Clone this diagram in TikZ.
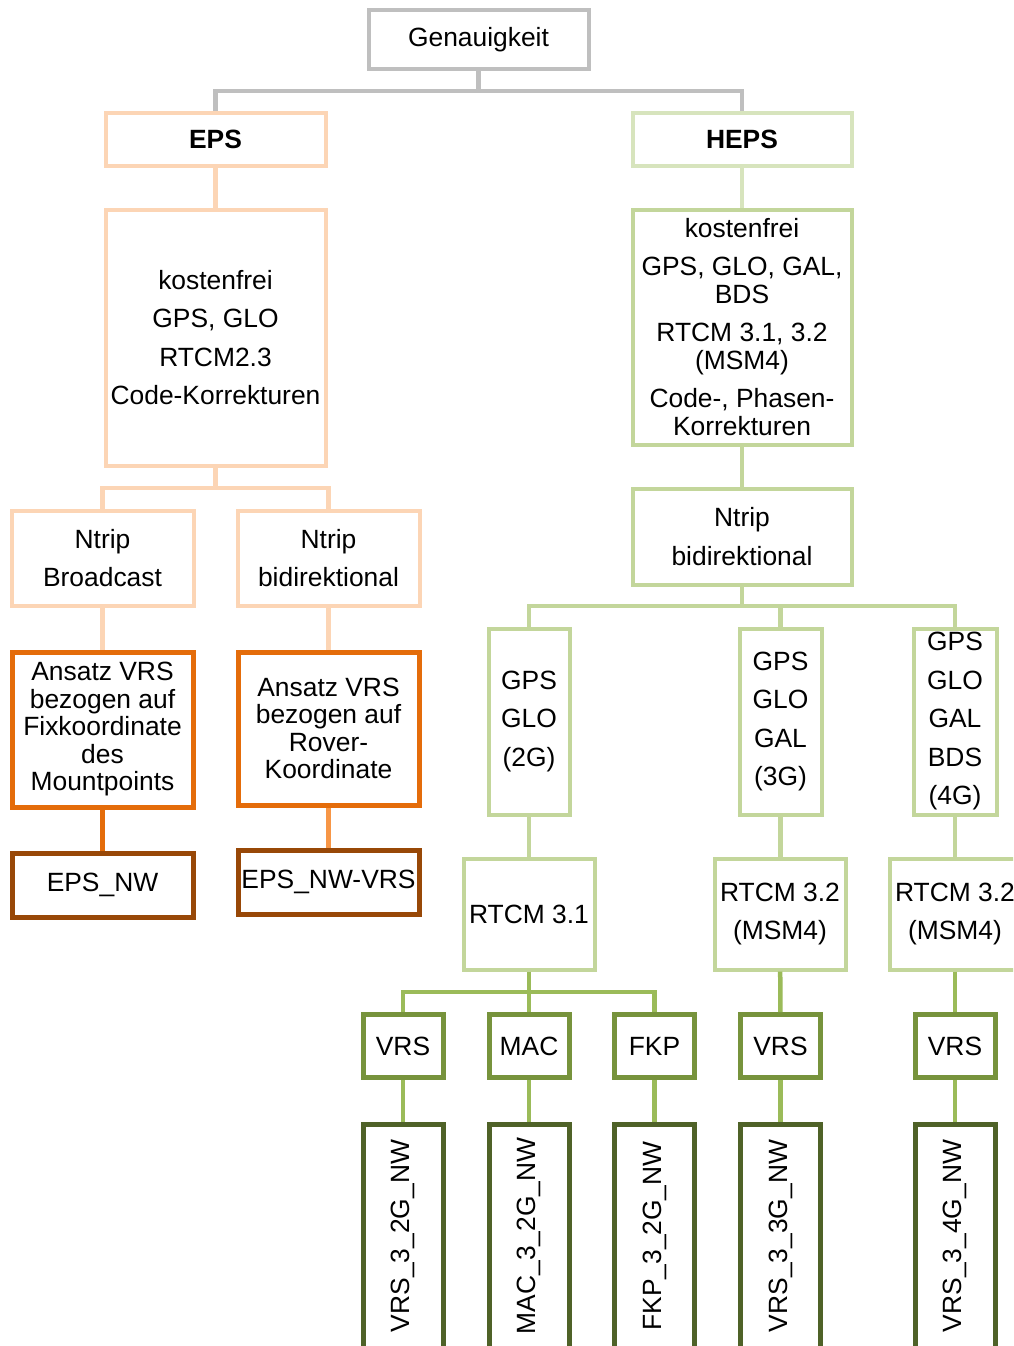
\documentclass[tikz,border=0pt]{standalone}
\usepackage{fontspec}
\setmainfont{Liberation Sans}
\usepackage{tikz}
\definecolor{grau}{HTML}{BFBFBF}
\definecolor{peach}{HTML}{FCD5B5}
\definecolor{orng}{HTML}{E46C0A}
\definecolor{ornglight}{HTML}{F79646}
\definecolor{braun}{HTML}{984807}
\definecolor{hepsgr}{HTML}{D7E4BD}
\definecolor{hellgr}{HTML}{C3D69B}
\definecolor{mittelgr}{HTML}{9BBB59}
\definecolor{gr}{HTML}{77933C}
\definecolor{dunkelgr}{HTML}{4F6228}
\newcommand{\gap}{\\[11pt]}

\begin{document}
\begin{tikzpicture}[x=1pt, y=-1pt,
      box/.style={draw, line width=4pt, inner sep=0pt, align=center,
                  font=\fontsize{26.4}{27.5}\selectfont},
      grbox/.style={box, draw=grau},
      pbox/.style={box, draw=peach},
      obox/.style={box, draw=orng, line width=5pt},
      bbox/.style={box, draw=braun, line width=5pt},
      hbox/.style={box, draw=hellgr},
      vbox/.style={box, draw=gr, line width=5pt, minimum width=80pt, minimum height=63pt},
      nwbox/.style={box, draw=dunkelgr, line width=5pt, minimum width=80pt, minimum height=224pt},
      conn/.style={line width=4.5pt}]
    \path[use as bounding box, clip] (0,0) rectangle (1013,1346);
    \fill[white] (0,0) rectangle (1013,1346);

    % obere Ebene
    \node[grbox, minimum width=220pt, minimum height=59pt] (gen) at (478.5,39.5) {Genauigkeit};
    \node[pbox, minimum width=220pt, minimum height=53pt] (eps) at (215.5,139) {\textbf{EPS}};
    \node[box, draw=hepsgr, minimum width=219pt, minimum height=53pt] (heps) at (742,139) {\textbf{HEPS}};

    % EPS-Zweig
    \node[pbox, minimum width=220pt, minimum height=256pt] (epsinfo) at (215.5,337.5)
      {kostenfrei\gap GPS, GLO\gap RTCM2.3\gap Code-Korrekturen};
    \node[pbox, minimum width=182pt, minimum height=95pt] (ntripbc) at (102.5,558) {Ntrip\gap Broadcast};
    \node[pbox, minimum width=182pt, minimum height=95pt] (ntripbi) at (328.5,558) {Ntrip\gap bidirektional};
    \node[obox, minimum width=181pt, minimum height=155pt] (fix) at (102.5,729.5)
      {Ansatz VRS\\bezogen auf\\Fixkoordinate\\des\\Mountpoints};
    \node[obox, minimum width=181pt, minimum height=153pt] (rover) at (328.5,728.5)
      {Ansatz VRS\\bezogen auf\\Rover-\\Koordinate};
    \node[bbox, minimum width=181pt, minimum height=64pt] (epsnw) at (102.5,885) {EPS\_NW};
    \node[bbox, minimum width=181pt, minimum height=64pt] (epsnwvrs) at (328.5,882) {EPS\_NW-VRS};

    % HEPS-Zweig
    \node[hbox, minimum width=219pt, minimum height=235pt] (hepsinfo) at (742,327)
      {kostenfrei\gap GPS, GLO, GAL,\\BDS\gap RTCM 3.1, 3.2\\(MSM4)\gap Code-, Phasen-\\Korrekturen};
    \node[hbox, minimum width=219pt, minimum height=96pt] (hepsntrip) at (742,536.5) {Ntrip\gap bidirektional};
    \node[hbox, minimum width=81pt, minimum height=186pt] (g2) at (529,721.5) {GPS\gap GLO\gap (2G)};
    \node[hbox, minimum width=82pt, minimum height=186pt] (g3) at (780.5,721.5) {GPS\gap GLO\gap GAL\gap (3G)};
    \node[hbox, minimum width=83pt, minimum height=186pt] (g4) at (955,721.5) {GPS\gap GLO\gap GAL\gap BDS\gap (4G)};
    \node[hbox, minimum width=131pt, minimum height=111pt] (rtcm31) at (529,914) {RTCM 3.1};
    \node[hbox, minimum width=131pt, minimum height=111pt] (rtcm32a) at (780,914) {RTCM 3.2\gap (MSM4)};
    \node[hbox, minimum width=131pt, minimum height=111pt] (rtcm32b) at (955,914) {RTCM 3.2\gap (MSM4)};
    \node[vbox] (vrs2) at (403,1046) {VRS};
    \node[vbox] (mac) at (529,1046) {MAC};
    \node[vbox] (fkp) at (654.5,1046) {FKP};
    \node[vbox] (vrs3) at (780.5,1046) {VRS};
    \node[vbox] (vrs4) at (955,1046) {VRS};
    \node[nwbox] (nwvrs2) at (403,1236) {\rotatebox{90}{VRS\_3\_2G\_NW}};
    \node[nwbox] (nwmac) at (529,1236) {\rotatebox{90}{MAC\_3\_2G\_NW}};
    \node[nwbox] (nwfkp) at (654.5,1236) {\rotatebox{90}{FKP\_3\_2G\_NW}};
    \node[nwbox] (nwvrs3) at (780.5,1236) {\rotatebox{90}{VRS\_3\_3G\_NW}};
    \node[nwbox] (nwvrs4) at (955,1236) {\rotatebox{90}{VRS\_3\_4G\_NW}};

    % Verbindungen
    \coordinate (bus0) at (478.5,91);
    \coordinate (bus1) at (215.5,488);
    \coordinate (bus2) at (742,606);
    \coordinate (bus3) at (529,992);
    \draw[conn, grau] (gen.south) -- (bus0) -| (eps);
    \draw[conn, grau] (bus0) -| (heps);
    \draw[conn, peach] (eps) -- (epsinfo);
    \draw[conn, peach] (epsinfo.south) -- (bus1) -| (ntripbc);
    \draw[conn, peach] (bus1) -| (ntripbi);
    \draw[conn, peach] (ntripbc) -- (fix);
    \draw[conn, peach] (ntripbi) -- (rover);
    \draw[conn, orng] (fix) -- (epsnw);
    \draw[conn, ornglight] (rover) -- (epsnwvrs);
    \draw[conn, hepsgr] (heps) -- (hepsinfo);
    \draw[conn, hellgr] (hepsinfo) -- (hepsntrip);
    \draw[conn, hellgr] (hepsntrip.south) -- (bus2) -| (g2);
    \draw[conn, hellgr] (bus2) -| (g3);
    \draw[conn, hellgr] (bus2) -| (g4);
    \draw[conn, hellgr] (g2) -- (rtcm31);
    \draw[conn, hellgr] (g3.south) -- (g3.south |- rtcm32a.north);
    \draw[conn, hellgr] (g4) -- (rtcm32b);
    \draw[conn, mittelgr] (rtcm31.south) -- (bus3) -| (vrs2);
    \draw[conn, mittelgr] (bus3) -- (mac);
    \draw[conn, mittelgr] (bus3) -| (fkp);
    \draw[conn, mittelgr] (rtcm32a) -- (vrs3);
    \draw[conn, mittelgr] (rtcm32b) -- (vrs4);
    \draw[conn, mittelgr] (vrs2) -- (nwvrs2);
    \draw[conn, mittelgr] (mac) -- (nwmac);
    \draw[conn, mittelgr] (fkp) -- (nwfkp);
    \draw[conn, mittelgr] (vrs3) -- (nwvrs3);
    \draw[conn, mittelgr] (vrs4) -- (nwvrs4);
  \end{tikzpicture}
\end{document}
